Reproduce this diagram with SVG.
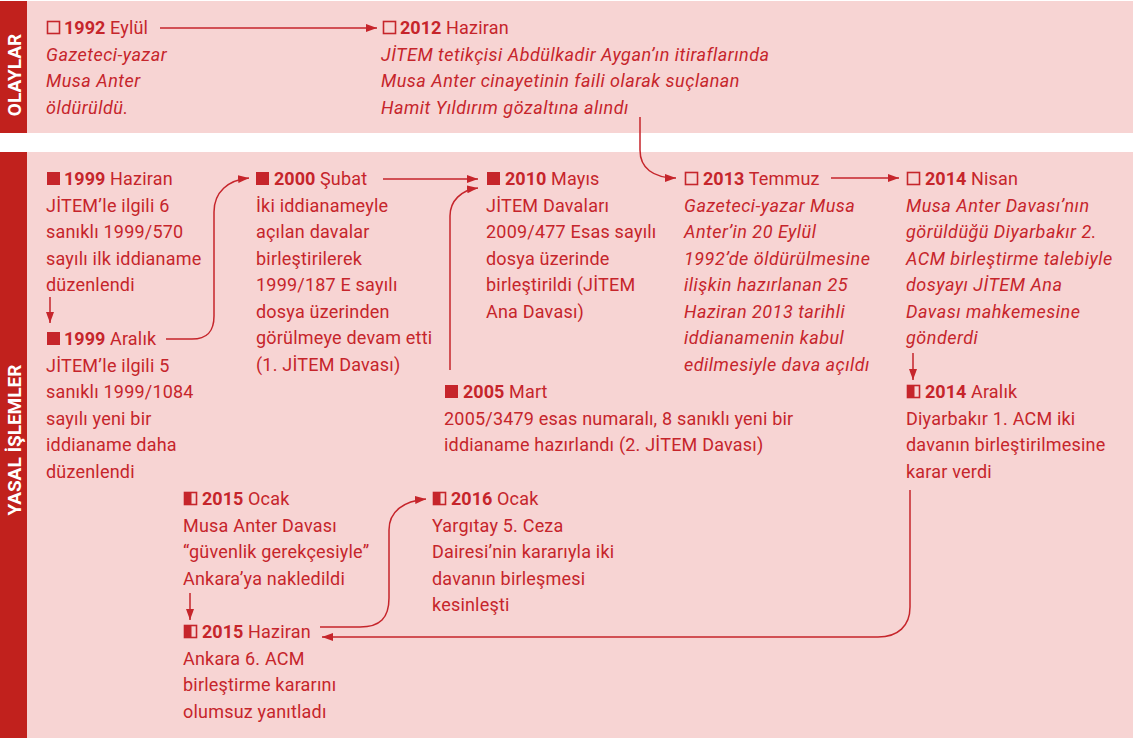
<svg xmlns="http://www.w3.org/2000/svg" width="1138" height="738" viewBox="0 0 1138 738">
<defs>
<style>
text{font-family:Roboto,"Liberation Sans",sans-serif;font-size:18px;fill:#c6252b;letter-spacing:0.2px}
.b{font-weight:bold;letter-spacing:0}
.i{font-style:italic;letter-spacing:0.5px}
.side{font-weight:bold;font-size:19px;fill:#ffffff;letter-spacing:0}
.sqf{fill:#c6252b}
.sqo{fill:none;stroke:#c6252b;stroke-width:1.6}
.con{fill:none;stroke:#c6252b;stroke-width:1.5}
</style>
<marker id="ah" markerUnits="userSpaceOnUse" markerWidth="11" markerHeight="8" refX="11" refY="4" orient="auto">
<path d="M0,0 L11,4 L0,8 z" fill="#c6252b"/>
</marker>
</defs>
<rect width="1138" height="738" fill="#ffffff"/>
<g id="bands">
<rect x="0" y="1" width="1133" height="132" fill="#f7d4d3"/>
<rect x="0" y="152" width="1133" height="586" fill="#f7d4d3"/>
<rect x="0" y="1" width="27" height="132" fill="#c1211d"/>
<rect x="0" y="152" width="27" height="586" fill="#c1211d"/>
<text class="side" transform="translate(21,75) rotate(-90)" text-anchor="middle">OLAYLAR</text>
<text class="side" transform="translate(21,440) rotate(-90)" text-anchor="middle">YASAL İŞLEMLER</text>
</g>
<g id="connectors">
<path class="con" d="M160,28 H377" marker-end="url(#ah)"/>
<path class="con" d="M640,117 V150 C640,168 653,178 676,178" marker-end="url(#ah)"/>
<path class="con" d="M50,297 V323" marker-end="url(#ah)"/>
<path class="con" d="M166,339 H192 C207,339 214,332 214,316 V212 C214,192 228,180 249,178" marker-end="url(#ah)"/>
<path class="con" d="M383,179 H478" marker-end="url(#ah)"/>
<path class="con" d="M450,370 V216 C450,201 461,190 478,188" marker-end="url(#ah)"/>
<path class="con" d="M831,178 H899" marker-end="url(#ah)"/>
<path class="con" d="M913,353 V380" marker-end="url(#ah)"/>
<path class="con" d="M910,490 V607 C910,626 898,637 878,637 H322" marker-end="url(#ah)"/>
<path class="con" d="M190,593 V620" marker-end="url(#ah)"/>
<path class="con" d="M320,627 H360 C380,627 389,618 389,598 V530 C389,511 404,501 426,499" marker-end="url(#ah)"/>
</g>
<g id="n1992">
<rect class="sqo" x="47.5" y="21.5" width="12" height="12"/>
<text x="64" y="34"><tspan class="b">1992</tspan> Eylül</text>
<text class="i" x="46"><tspan x="46" y="60.5">Gazeteci-yazar</tspan><tspan x="46" y="87">Musa Anter</tspan><tspan x="46" y="113.5">öldürüldü.</tspan></text>
</g>
<g id="n2012">
<rect class="sqo" x="383.5" y="21.5" width="12" height="12"/>
<text x="400" y="34"><tspan class="b">2012</tspan> Haziran</text>
<text class="i"><tspan x="381" y="60.5">JİTEM tetikçisi Abdülkadir Aygan’ın itiraflarında</tspan><tspan x="381" y="87">Musa Anter cinayetinin faili olarak suçlanan</tspan><tspan x="381" y="113.5">Hamit Yıldırım gözaltına alındı</tspan></text>
</g>
<g id="n1999h">
<rect class="sqf" x="47" y="172" width="13" height="13"/>
<text x="64" y="185"><tspan class="b">1999</tspan> Haziran</text>
<text><tspan x="46" y="211.5">JİTEM’le ilgili 6</tspan><tspan x="46" y="238">sanıklı 1999/570</tspan><tspan x="46" y="264.5">sayılı ilk iddianame</tspan><tspan x="46" y="291">düzenlendi</tspan></text>
</g>
<g id="n1999a">
<rect class="sqf" x="47" y="332" width="13" height="13"/>
<text x="64" y="345"><tspan class="b">1999</tspan> Aralık</text>
<text><tspan x="46" y="371.5">JİTEM’le ilgili 5</tspan><tspan x="46" y="398">sanıklı 1999/1084</tspan><tspan x="46" y="424.5">sayılı yeni bir</tspan><tspan x="46" y="451">iddianame daha</tspan><tspan x="46" y="477.5">düzenlendi</tspan></text>
</g>
<g id="n2000">
<rect class="sqf" x="256" y="172" width="13" height="13"/>
<text x="274" y="185"><tspan class="b">2000</tspan> Şubat</text>
<text><tspan x="256" y="211.5">İki iddianameyle</tspan><tspan x="256" y="238">açılan davalar</tspan><tspan x="256" y="264.5">birleştirilerek</tspan><tspan x="256" y="291">1999/187 E sayılı</tspan><tspan x="256" y="317.5">dosya üzerinden</tspan><tspan x="256" y="344">görülmeye devam etti</tspan><tspan x="256" y="370.5">(1. JİTEM Davası)</tspan></text>
</g>
<g id="n2010">
<rect class="sqf" x="487" y="172" width="13" height="13"/>
<text x="505" y="185"><tspan class="b">2010</tspan> Mayıs</text>
<text><tspan x="486" y="211.5">JİTEM Davaları</tspan><tspan x="486" y="238">2009/477 Esas sayılı</tspan><tspan x="486" y="264.5">dosya üzerinde</tspan><tspan x="486" y="291">birleştirildi (JİTEM</tspan><tspan x="486" y="317.5">Ana Davası)</tspan></text>
</g>
<g id="n2005">
<rect class="sqf" x="445" y="385" width="13" height="13"/>
<text x="463" y="398"><tspan class="b">2005</tspan> Mart</text>
<text><tspan x="444" y="424.5">2005/3479 esas numaralı, 8 sanıklı yeni bir</tspan><tspan x="444" y="451">iddianame hazırlandı (2. JİTEM Davası)</tspan></text>
</g>
<g id="n2013">
<rect class="sqo" x="685.5" y="172.5" width="12" height="12"/>
<text x="703" y="185"><tspan class="b">2013</tspan> Temmuz</text>
<text class="i"><tspan x="684" y="211.5">Gazeteci-yazar Musa</tspan><tspan x="684" y="238">Anter’in 20 Eylül</tspan><tspan x="684" y="264.5">1992’de öldürülmesine</tspan><tspan x="684" y="291">ilişkin hazırlanan 25</tspan><tspan x="684" y="317.5">Haziran 2013 tarihli</tspan><tspan x="684" y="344">iddianamenin kabul</tspan><tspan x="684" y="370.5">edilmesiyle dava açıldı</tspan></text>
</g>
<g id="n2014n">
<rect class="sqo" x="907.5" y="172.5" width="12" height="12"/>
<text x="925" y="185"><tspan class="b">2014</tspan> Nisan</text>
<text class="i"><tspan x="906" y="211.5">Musa Anter Davası’nın</tspan><tspan x="906" y="238">görüldüğü Diyarbakır 2.</tspan><tspan x="906" y="264.5">ACM birleştirme talebiyle</tspan><tspan x="906" y="291">dosyayı JİTEM Ana</tspan><tspan x="906" y="317.5">Davası mahkemesine</tspan><tspan x="906" y="344">gönderdi</tspan></text>
</g>
<g id="n2014a">
<rect class="sqo" x="907.5" y="385.5" width="12" height="12"/>
<rect class="sqf" x="907.5" y="385.5" width="7" height="12"/>
<text x="925" y="398"><tspan class="b">2014</tspan> Aralık</text>
<text><tspan x="906" y="424.5">Diyarbakır 1. ACM iki</tspan><tspan x="906" y="451">davanın birleştirilmesine</tspan><tspan x="906" y="477.5">karar verdi</tspan></text>
</g>
<g id="n2015o">
<rect class="sqo" x="184.5" y="492.5" width="12" height="12"/>
<rect class="sqf" x="184.5" y="492.5" width="7" height="12"/>
<text x="202" y="505"><tspan class="b">2015</tspan> Ocak</text>
<text><tspan x="183" y="531.5">Musa Anter Davası</tspan><tspan x="183" y="558">“güvenlik gerekçesiyle”</tspan><tspan x="183" y="584.5">Ankara’ya nakledildi</tspan></text>
</g>
<g id="n2015h">
<rect class="sqo" x="184.5" y="625.5" width="12" height="12"/>
<rect class="sqf" x="184.5" y="625.5" width="7" height="12"/>
<text x="202" y="638"><tspan class="b">2015</tspan> Haziran</text>
<text><tspan x="183" y="664.5">Ankara 6. ACM</tspan><tspan x="183" y="691">birleştirme kararını</tspan><tspan x="183" y="717.5">olumsuz yanıtladı</tspan></text>
</g>
<g id="n2016">
<rect class="sqo" x="433.5" y="492.5" width="12" height="12"/>
<rect class="sqf" x="433.5" y="492.5" width="7" height="12"/>
<text x="451" y="505"><tspan class="b">2016</tspan> Ocak</text>
<text><tspan x="432" y="531.5">Yargıtay 5. Ceza</tspan><tspan x="432" y="558">Dairesi’nin kararıyla iki</tspan><tspan x="432" y="584.5">davanın birleşmesi</tspan><tspan x="432" y="611">kesinleşti</tspan></text>
</g>
</svg>
